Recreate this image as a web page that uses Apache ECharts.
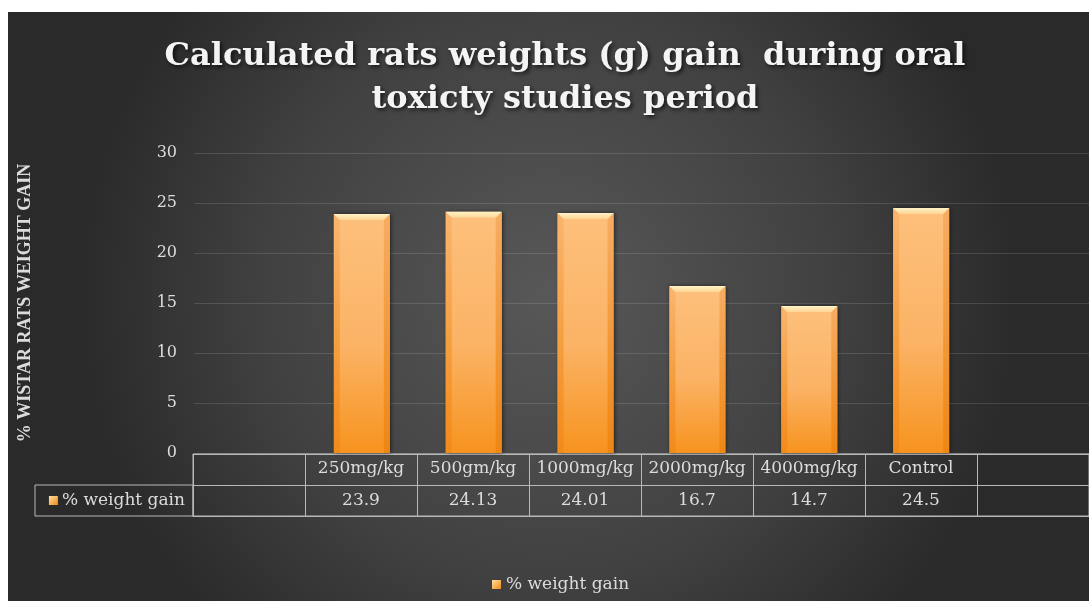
<!DOCTYPE html>
<html>
<head>
<meta charset="utf-8">
<script src="https://cdn.jsdelivr.net/npm/echarts@6/dist/echarts.min.js"></script>
<style>
html,body{margin:0;padding:0;background:#ffffff;width:1089px;height:601px;overflow:hidden;}
#chart{position:absolute;left:8px;top:12px;width:1081px;height:589px;}
</style>
</head>
<body>
<div id="chart"></div>
<script>
// ---- data ----
var categories = ['', '250mg/kg', '500gm/kg', '1000mg/kg', '2000mg/kg', '4000mg/kg', 'Control', ''];
var weightGain = [null, 23.9, 24.13, 24.01, 16.7, 14.7, 24.5, null];
var tableValues = ['', '23.9', '24.13', '24.01', '16.7', '14.7', '24.5', ''];
var seriesName = '% weight gain';
var yTicks = { min: 0, max: 30, interval: 5 };
var titleText = 'Calculated rats weights (g) gain  during oral\ntoxicty studies period';
var yTitle = '% WISTAR RATS WEIGHT GAIN';

var serifL = "'Liberation Serif', 'DejaVu Serif', serif";
var serifD = "'DejaVu Serif', 'Liberation Serif', serif";
var lineCol = '#b8b8b8';
var txtCol = '#dcdcdc';

var barFace = new echarts.graphic.LinearGradient(0, 0, 0, 1, [
  { offset: 0, color: '#fdc07c' },
  { offset: 0.55, color: '#fbb365' },
  { offset: 1, color: '#f7931f' }
]);
var iconGrad = new echarts.graphic.LinearGradient(0, 0, 1, 1, [
  { offset: 0, color: '#ffe0a0' },
  { offset: 1, color: '#f08a18' }
]);

function renderBar(params, api) {
  var v = api.value(1);
  if (v == null || isNaN(v)) return null;
  var top = api.coord([api.value(0), v]);
  var bot = api.coord([api.value(0), 0]);
  var w = api.size([1, 0])[0] * 0.5;
  var x0 = top[0] - w / 2, x1 = top[0] + w / 2;
  var yT = top[1], yB = bot[1];
  var b = 6;
  return {
    type: 'group',
    children: [
      { type: 'rect', shape: { x: x0, y: yT, width: w, height: yB - yT },
        style: { fill: barFace, shadowColor: 'rgba(0,0,0,0.55)', shadowBlur: 4, shadowOffsetX: 1, shadowOffsetY: 0 } },
      { type: 'polygon', shape: { points: [[x0, yT], [x0 + b, yT + b], [x0 + b, yB], [x0, yB]] },
        style: { fill: new echarts.graphic.LinearGradient(0, 0, 0, 1, [{ offset: 0, color: '#f9b56e' }, { offset: 1, color: '#f38a17' }]) } },
      { type: 'polygon', shape: { points: [[x1, yT], [x1 - b, yT + b], [x1 - b, yB], [x1, yB]] },
        style: { fill: new echarts.graphic.LinearGradient(0, 0, 0, 1, [{ offset: 0, color: '#f7ad62' }, { offset: 1, color: '#ef8613' }]) } },
      { type: 'polygon', shape: { points: [[x0, yT], [x1, yT], [x1 - b, yT + b], [x0 + b, yT + b]] },
        style: { fill: new echarts.graphic.LinearGradient(0, 0, 0, 1, [{ offset: 0, color: '#fff3c8' }, { offset: 1, color: '#fed595' }]) } }
    ]
  };
}

var chart = echarts.init(document.getElementById('chart'));
chart.setOption({
  backgroundColor: new echarts.graphic.RadialGradient(0.5, 0.48, 0.8, [
    { offset: 0, color: '#585858' },
    { offset: 0.6, color: '#414141' },
    { offset: 1, color: '#2a2a2a' }
  ]),
  title: {
    text: titleText,
    left: 552,
    textAlign: 'center',
    top: 18,
    textStyle: {
      color: '#f4f4f4',
      fontFamily: serifD,
      fontWeight: 'bold',
      fontSize: 32,
      lineHeight: 43,
      textShadowColor: 'rgba(0,0,0,0.7)',
      textShadowBlur: 4,
      textShadowOffsetX: 2,
      textShadowOffsetY: 2
    }
  },
  legend: {
    data: [{ name: seriesName, itemStyle: { color: iconGrad } }],
    left: 479,
    top: 559,
    icon: 'rect',
    itemWidth: 9,
    itemHeight: 9,
    itemGap: 6,
    textStyle: { color: txtCol, fontFamily: serifD, fontSize: 17 }
  },
  grid: [
    { left: 185, top: 141, width: 912, height: 300 },
    { left: 185, top: 442, width: 912, height: 62, show: true, borderColor: lineCol, borderWidth: 1, backgroundColor: 'transparent' },
    { left: 27, top: 473, width: 158, height: 31, show: true, borderColor: lineCol, borderWidth: 1, backgroundColor: 'transparent' }
  ],
  xAxis: [
    { gridIndex: 0, type: 'category', data: categories, show: false },
    {
      gridIndex: 1, type: 'category', data: categories, position: 'top',
      axisLine: { show: true, lineStyle: { color: lineCol } },
      axisTick: { show: false },
      splitLine: { show: true, interval: 0, lineStyle: { color: lineCol } },
      axisLabel: { inside: true, interval: 0, margin: 15, verticalAlign: 'middle', color: txtCol, fontFamily: serifD, fontSize: 17 }
    },
    {
      gridIndex: 1, type: 'category', data: tableValues, position: 'bottom',
      axisLine: { show: true, lineStyle: { color: lineCol } },
      axisTick: { show: false },
      splitLine: { show: false },
      axisLabel: { inside: true, interval: 0, margin: 15, verticalAlign: 'middle', color: txtCol, fontFamily: serifD, fontSize: 17 }
    },
    { gridIndex: 2, type: 'value', show: false }
  ],
  yAxis: [
    {
      gridIndex: 0, type: 'value', min: yTicks.min, max: yTicks.max, interval: yTicks.interval,
      name: yTitle, nameLocation: 'middle', nameGap: 160, nameRotate: 90,
      nameTextStyle: { color: txtCol, fontFamily: serifL, fontWeight: 'bold', fontSize: 18 },
      axisLine: { show: false }, axisTick: { show: false },
      splitLine: { lineStyle: { color: 'rgba(255,255,255,0.13)' } },
      axisLabel: { color: txtCol, fontFamily: serifD, fontSize: 16, margin: 17 }
    },
    {
      gridIndex: 1, type: 'category', data: [seriesName, ''],
      axisLine: { show: false }, axisTick: { show: false },
      splitLine: { show: true, interval: 0, lineStyle: { color: lineCol } },
      axisLabel: {
        margin: 8, color: txtCol, fontFamily: serifD, fontSize: 17,
        formatter: function (v) { return v ? '{box|}{t|' + v + '}' : ''; },
        rich: {
          box: { width: 9, height: 9, backgroundColor: iconGrad },
          t: { color: txtCol, fontFamily: serifD, fontSize: 17, padding: [0, 0, 0, 4] }
        }
      }
    },
    { gridIndex: 2, type: 'value', show: false }
  ],
  series: [
    {
      name: seriesName,
      type: 'custom',
      xAxisIndex: 0,
      yAxisIndex: 0,
      itemStyle: { color: iconGrad },
      data: weightGain.map(function (v, i) { return [i, v]; }),
      encode: { x: 0, y: 1 },
      renderItem: renderBar
    }
  ]
});
</script>
</body>
</html>
